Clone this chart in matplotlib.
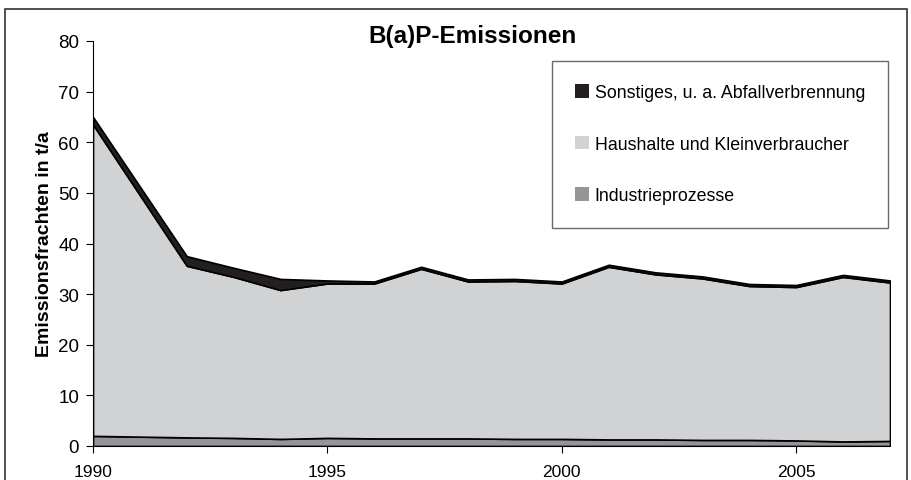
import matplotlib
matplotlib.use("Agg")
import matplotlib.pyplot as plt
from matplotlib.patches import Patch, Rectangle
import numpy as np

plt.rcParams['font.family'] = ['Liberation Sans', 'DejaVu Sans']

# B(a)P emissions in t/a
years = [1990, 1992, 1993, 1994, 1995, 1996, 1997, 1998, 1999,
         2000, 2001, 2002, 2003, 2004, 2005, 2006, 2007]
industrie = [2.0, 1.7, 1.6, 1.4, 1.6, 1.5, 1.5, 1.5, 1.4,
             1.4, 1.3, 1.3, 1.2, 1.2, 1.1, 0.9, 1.0]
haushalte = [61.5, 33.9, 31.8, 29.4, 30.5, 30.6, 33.5, 31.0, 31.2,
             30.7, 34.1, 32.6, 31.9, 30.4, 30.3, 32.5, 31.3]
sonstiges = [1.5, 1.9, 1.8, 2.2, 0.6, 0.4, 0.4, 0.4, 0.4,
             0.4, 0.4, 0.4, 0.4, 0.4, 0.4, 0.4, 0.4]

labels = ["Industrieprozesse", "Haushalte und Kleinverbraucher",
          "Sonstiges, u. a. Abfallverbrennung"]
colors = ["#939598", "#d1d2d4", "#231f20"]
xticks = [1990, 1995, 2000, 2005]
yticks = [0, 10, 20, 30, 40, 50, 60, 70, 80]

W, H = 912, 481
fig = plt.figure(figsize=(W / 100, H / 100), dpi=100)
ax = fig.add_axes([93 / W, 1 - 447 / H, (890 - 93) / W, (447 - 42) / H])

ax.stackplot(years, industrie, haushalte, sonstiges, colors=colors,
             edgecolor="black", linewidth=1.2)

ax.set_xlim(1990, 2007)
ax.set_ylim(0, 80)
ax.set_xticks(xticks)
ax.set_yticks(yticks)
ax.tick_params(length=5, width=0.8, direction="out")
ax.tick_params(axis="x", labelsize=12.5, pad=8)
ax.tick_params(axis="y", labelsize=13.5, pad=5)
for s in ["top", "right"]:
    ax.spines[s].set_visible(False)
ax.set_ylabel("Emissionsfrachten in t/a", fontsize=14, fontweight="bold",
              labelpad=4)

fig.text(473 / W, 1 - 37 / H, "B(a)P-Emissionen", ha="center", va="center",
         fontsize=17.5, fontweight="bold")

handles = [Patch(facecolor=c, edgecolor="none") for c in colors[::-1]]
leg = fig.legend(handles, labels[::-1], loc="upper left",
                 bbox_to_anchor=(552 / W, 1 - 62 / H), fontsize=12.8,
                 frameon=True, fancybox=False, edgecolor="#444444",
                 borderpad=1.3, labelspacing=1.95, handlelength=0.8,
                 handleheight=0.8, handletextpad=0.3, borderaxespad=0)
leg.get_frame().set_linewidth(1.0)

# outer frame around the whole chart
fig.patches.append(Rectangle((5 / W, -0.1), (907 - 5) / W, 1.1 - 10 / H,
                             transform=fig.transFigure, fill=False,
                             edgecolor="#333333", linewidth=1.2))

fig.savefig("out.png", dpi=100)
